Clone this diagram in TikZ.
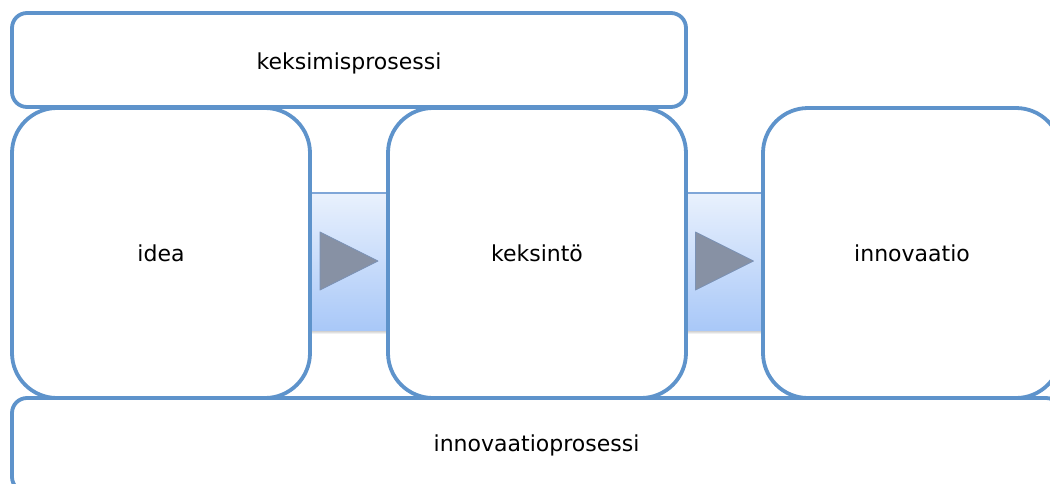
\documentclass[tikz,border=0pt]{standalone}
\usepackage{fontspec}
\setmainfont{DejaVu Sans}
\usetikzlibrary{calc,backgrounds}
\definecolor{edge}{HTML}{5E93CB}
\definecolor{linkedge}{HTML}{7FA6D8}
\definecolor{linktop}{HTML}{E9F1FD}
\definecolor{linkbot}{HTML}{A9C8F8}
\definecolor{tri}{HTML}{8791A4}
\definecolor{triedge}{HTML}{7B92B6}
\begin{document}
\begin{tikzpicture}[x=1pt,y=-1pt,
  box/.style={draw=edge, line width=3.8pt, fill=white, inner sep=0pt,
    text height=16pt, text depth=4pt,
    font=\fontsize{22}{26}\selectfont},
  phasebox/.style={box, minimum width=298pt, minimum height=290pt, rounded corners=45pt},
  procbox/.style={box, minimum height=94pt, rounded corners=15pt},
  linkfill/.style={top color=linktop, bottom color=linkbot, draw=none},
  linkline/.style={draw=linkedge, line width=1.5pt},
  arrowtri/.style={fill=tri, draw=triedge, line width=0.8pt, line join=round}]
\useasboundingbox (0,0) rectangle (1050,483);

% process bands
\node[procbox, minimum width=674pt] (invent) at (349,60) {\raisebox{-3pt}{keksimisprosessi}};
\node[procbox, minimum width=1049pt] (innoproc) at (536.5,445) {innovaatioprosessi};

% phases
\node[phasebox] (idea)  at (161,253) {\raisebox{-2pt}{idea}};
\node[phasebox] (keks)  at (537,253) {\raisebox{-2pt}{keksintö}};
\node[phasebox] (innov) at (912,253) {\raisebox{-2pt}{innovaatio}};

% links between phases
\begin{scope}[on background layer]
\foreach \a/\b in {idea/keks, keks/innov}{
  \coordinate (m) at ($(\a.east)!0.5!(\b.west)+(0,8)$);
  \fill[top color=gray!60, bottom color=white, draw=none]
    ($(\a.east |- m)+(0,68)$) rectangle ($(\b.west |- m)+(0,73)$);
  \path[linkfill] ($(\a.east |- m)+(0,-68)$) rectangle ($(\b.west |- m)+(0,69)$);
  \draw[linkline] ($(\a.east |- m)+(0,-68)$) -- ($(\b.west |- m)+(0,-68)$);
  \draw[arrowtri] ($(m)+(-29,-29)$) -- ($(m)+(29,0)$) -- ($(m)+(-29,29)$) -- cycle;
}
\end{scope}
\end{tikzpicture}
\end{document}
